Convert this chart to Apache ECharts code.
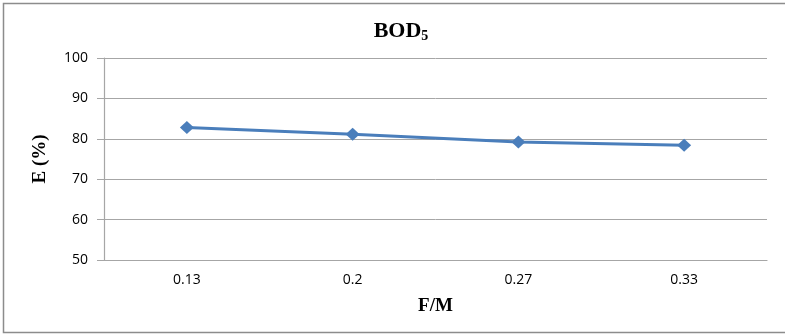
<!DOCTYPE html>
<html>
<head>
<meta charset="utf-8">
<script src="https://cdn.jsdelivr.net/npm/echarts@6/dist/echarts.min.js"></script>
<style>html,body{margin:0;padding:0;background:#fff}#c{width:785px;height:334px}</style>
</head>
<body>
<div id="c"></div>
<script>
const categories = ['0.13', '0.2', '0.27', '0.33'];
const efficiency = [82.8, 81.1, 79.2, 78.4];
const yTicks = [50, 60, 70, 80, 90, 100];

const chart = echarts.init(document.getElementById('c'), null, {renderer: 'canvas'});
chart.setOption({
  animation: false,
  backgroundColor: '#fff',
  graphic: [{
    type: 'polyline', shape: {points: [[800, 3.5], [3.5, 3.5], [3.5, 332.5], [800, 332.5]]},
    style: {fill: 'none', stroke: '#8c8c8c', lineWidth: 1.5}, silent: true
  }],
  title: {
    text: '{a|BOD}{s|5}',
    left: 396, top: 14, textAlign: 'center',
    textStyle: {
      rich: {
        a: {fontFamily: 'Liberation Serif', fontWeight: 'bold', fontSize: 22, color: '#000'},
        s: {fontFamily: 'Liberation Serif', fontWeight: 'bold', fontSize: 14, color: '#000', verticalAlign: 'bottom', padding: [10, 0, 0, 0]}
      }
    }
  },
  grid: {left: 104, right: 18, top: 58, bottom: 74},
  xAxis: {
    type: 'category', data: categories, boundaryGap: true,
    name: 'F/M', nameLocation: 'middle', nameGap: 37,
    nameTextStyle: {fontFamily: 'Liberation Serif', fontWeight: 'bold', fontSize: 19, color: '#000'},
    axisLine: {lineStyle: {color: '#a6a6a6', width: 1.2}},
    axisTick: {show: false},
    axisLabel: {fontFamily: 'Open Sans', fontSize: 14, color: '#000', margin: 13}
  },
  yAxis: {
    type: 'value', min: yTicks[0], max: yTicks[yTicks.length - 1], interval: 10,
    name: 'E (%)', nameLocation: 'middle', nameGap: 54, nameRotate: 90,
    nameTextStyle: {fontFamily: 'Liberation Serif', fontWeight: 'bold', fontSize: 19, color: '#000'},
    axisLine: {show: true, lineStyle: {color: '#a6a6a6', width: 1.2}},
    axisTick: {show: true, length: 7, lineStyle: {color: '#a6a6a6'}},
    axisLabel: {fontFamily: 'Open Sans', fontSize: 14, color: '#000', margin: 16},
    splitLine: {lineStyle: {color: '#a6a6a6', width: 1}}
  },
  series: [{
    type: 'line', data: efficiency,
    symbol: 'diamond', symbolSize: [14, 13],
    lineStyle: {color: '#4a7ebb', width: 3},
    itemStyle: {color: '#4a7ebb'}
  }]
});
</script>
</body>
</html>
